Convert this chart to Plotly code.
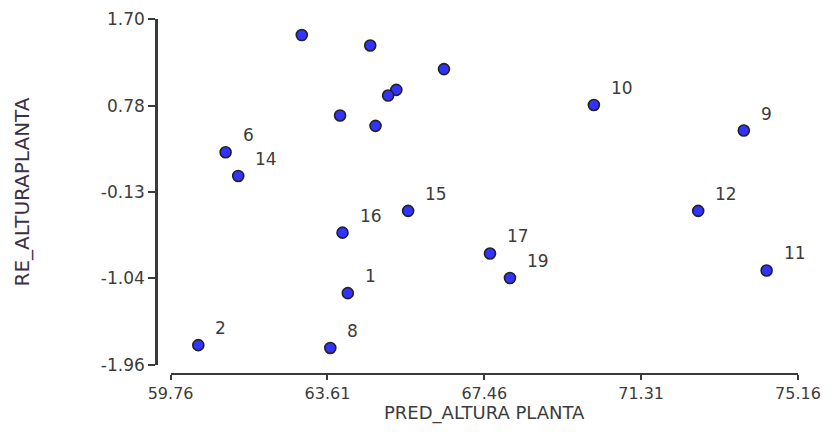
import plotly.graph_objects as go

# Data
obs_ids = ["1", "2", "3", "4", "5", "6", "7", "8", "9", "10",
           "11", "12", "13", "14", "15", "16", "17", "18", "19", "20"]
pred_altura = [64.11, 60.44, 62.98, 64.66, 66.47, 61.11, 65.30, 63.68, 73.83, 70.15,
               74.39, 72.71, 65.10, 61.42, 65.59, 63.98, 67.60, 63.92, 68.09, 64.79]
re_altura = [-1.20, -1.75, 1.53, 1.42, 1.17, 0.29, 0.95, -1.78, 0.52, 0.79,
             -0.96, -0.33, 0.89, 0.04, -0.33, -0.56, -0.78, 0.68, -1.04, 0.57]
point_labels = ["1", "2", "", "", "", "6", "", "8", "9", "10",
                "11", "12", "", "14", "15", "16", "17", "", "19", ""]

x_ticks = [59.76, 63.61, 67.46, 71.31, 75.16]
x_ticktext = ["59.76", "63.61", "67.46", "71.31", "75.16"]
y_ticks = [1.70, 0.78, -0.13, -1.04, -1.96]
y_ticktext = ["1.70", "0.78", "-0.13", "-1.04", "-1.96"]
x_title = "PRED_ALTURA PLANTA"
y_title = "RE_ALTURAPLANTA"

AX = "#3a3a3a"
TXT = "#3c3c3c"
FONT = "DejaVu Sans"

fig = go.Figure()
fig.add_trace(go.Scatter(
    x=pred_altura, y=re_altura, mode="markers",
    text=obs_ids,
    marker=dict(symbol="circle", size=11, color="#3333ff",
                line=dict(color="#222222", width=1.6)),
    cliponaxis=False, showlegend=False,
    hovertemplate="%{text}: (%{x}, %{y})<extra></extra>",
))

annotations = []
for xv, yv, lab in zip(pred_altura, re_altura, point_labels):
    if lab:
        annotations.append(dict(
            x=xv, y=yv, xref="x", yref="y", text=lab, showarrow=False,
            xanchor="left", yanchor="middle", xshift=15, yshift=17,
            font=dict(family=FONT, size=17, color=TXT),
        ))

# the page body adds an 8px margin around the figure
W, H = 821, 416
ml, mr, mt, mb = 148, 31, 11, 50
pw, ph = W - ml - mr, H - mt - mb
x_dom = [(162.6 - ml) / pw, 1.0]

# x-axis title placed below the tick labels
annotations.append(dict(
    x=(x_dom[0] + x_dom[1]) / 2, y=0, xref="paper", yref="paper",
    text=x_title, showarrow=False, xanchor="center", yanchor="middle",
    yshift=-39, font=dict(family=FONT, size=18, color=TXT),
))

fig.update_layout(
    width=W, height=H,
    margin=dict(l=ml, r=mr, t=mt, b=mb, autoexpand=False),
    paper_bgcolor="white", plot_bgcolor="white",
    annotations=annotations,
    xaxis=dict(
        range=[x_ticks[0], x_ticks[-1]],
        domain=x_dom,
        anchor="free", position=0, automargin=False,
        tickvals=x_ticks, ticktext=x_ticktext,
        showgrid=False, zeroline=False,
        showline=True, linecolor=AX, linewidth=2,
        ticks="outside", ticklen=5, tickwidth=2, tickcolor=AX,
        tickfont=dict(family=FONT, size=16, color=TXT),
    ),
    yaxis=dict(
        range=[y_ticks[-1], y_ticks[0]],
        domain=[(H - mb - 357) / ph, 1.0],
        anchor="free", position=0, automargin=False,
        tickvals=y_ticks, ticktext=y_ticktext,
        showgrid=False, zeroline=False,
        showline=True, linecolor=AX, linewidth=2.5,
        ticks="outside", ticklen=7, tickwidth=2, tickcolor=AX,
        tickfont=dict(family=FONT, size=17, color=TXT),
        title=dict(text=y_title, standoff=64,
                   font=dict(family=FONT, size=20, color="#3a3048")),
    ),
)

fig.write_html("out.html")
